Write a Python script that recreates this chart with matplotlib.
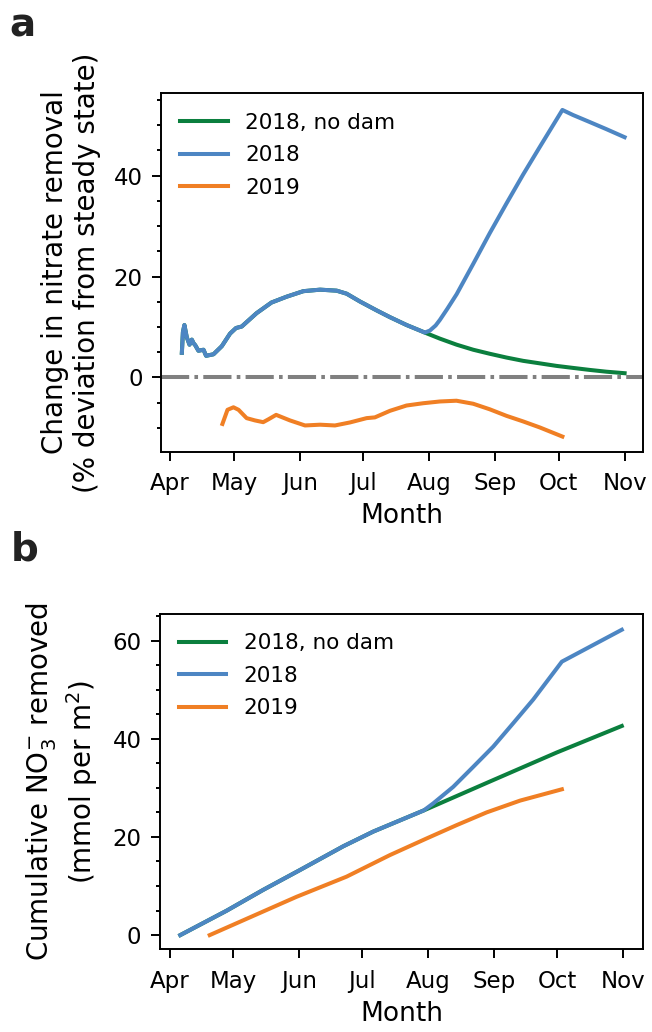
import numpy as np
import matplotlib
matplotlib.use('Agg')
import matplotlib.pyplot as plt
import matplotlib.dates as mdates
from matplotlib.ticker import MultipleLocator
import datetime as dt

# x values are days after 1 April (2019 drawn on the same month axis)
# panel a: change in nitrate removal (%)
a_early_days = [5.5, 6.0, 6.7, 7.8, 9.1, 10.2, 11.0, 11.8, 13.3, 15.7, 16.9, 20.4,
                24.3, 28.2, 31.0, 33.7, 40.7, 47.7, 54.8, 62.7, 70.6, 78.4, 83.1,
                89.4, 97.2, 103.5, 111.3, 118.8, 119.9]
a_early_vals = [4.9, 9.0, 10.4, 8.0, 6.5, 7.5, 6.8, 6.4, 5.3, 5.5, 4.3, 4.6,
                6.2, 8.7, 9.8, 10.1, 12.75, 14.85, 16.0, 17.1, 17.4, 17.2, 16.6,
                15.05, 13.3, 11.95, 10.4, 9.1, 8.9]
a_nodam_days = [127.0, 134.9, 142.7, 150.5, 158.4, 166.2, 174.1, 181.9, 189.7, 197.6, 205.4, 214.0]
a_nodam_vals = [7.7, 6.5, 5.5, 4.7, 3.95, 3.3, 2.8, 2.3, 1.9, 1.5, 1.15, 0.85]
a_dam_days = [122.3, 125.0, 127.0, 130.5, 134.9, 142.7, 150.5, 158.4, 166.2, 174.1, 184.7, 189.7, 197.6, 205.4, 214.0]
a_dam_vals = [9.3, 10.3, 11.4, 13.6, 16.5, 22.5, 28.6, 34.5, 40.2, 45.7, 53.0, 52.0, 50.6, 49.2, 47.6]
a_2019_days = [24.6, 27.0, 29.8, 32.2, 36.0, 39.9, 43.8, 46.2, 49.9, 56.4, 63.5, 70.6,
               77.6, 84.7, 92.5, 96.4, 103.5, 111.3, 119.1, 127.0, 134.8, 142.7,
               150.5, 158.4, 166.2, 174.1, 184.7]
a_2019_vals = [-9.2, -6.4, -5.9, -6.4, -8.05, -8.5, -8.85, -8.3, -7.4, -8.5, -9.5, -9.35,
               -9.5, -8.9, -8.05, -7.9, -6.6, -5.55, -5.1, -4.75, -4.6, -5.2,
               -6.3, -7.6, -8.7, -9.9, -11.7]

# panel b: cumulative NO3- removed (mmol per m2)
b_early_days = [5.0, 26.8, 44.1, 61.5, 82.0, 96.2, 120.0]
b_early_vals = [0.0, 4.95, 9.2, 13.25, 18.1, 21.1, 25.4]
b_nodam_days = [151.3, 182.8, 213.5]
b_nodam_vals = [31.3, 37.2, 42.6]
b_dam_days = [124.5, 133.9, 143.4, 152.8, 162.3, 171.7, 185.2, 213.5]
b_dam_vals = [26.85, 30.2, 34.3, 38.4, 43.2, 48.0, 55.7, 62.2]
b_2019_days = [18.9, 37.8, 59.9, 83.5, 104.0, 121.4, 135.5, 149.7, 165.5, 185.2]
b_2019_vals = [0.0, 3.6, 7.8, 11.9, 16.3, 19.7, 22.4, 25.0, 27.4, 29.7]

labels = ['2018, no dam', '2018', '2019']
colors = ['#0b7f3e', '#4d86c3', '#f07f24']

base = mdates.date2num(dt.datetime(2018, 4, 1))


def todate(d):
    return base + np.asarray(d, dtype=float)


plt.rcParams['font.family'] = 'DejaVu Sans'
plt.rcParams['axes.linewidth'] = 1.4

fig = plt.figure(figsize=(6.52, 10.32), dpi=100)
ax1 = fig.add_axes([0.247, 0.5623, 0.739, 0.3473])
ax2 = fig.add_axes([0.245, 0.0801, 0.7418, 0.3249])

lw = 2.9
# panel a
ax1.plot(todate(a_early_days + a_nodam_days), a_early_vals + a_nodam_vals, color=colors[0], lw=lw, label=labels[0])
ax1.plot(todate(a_early_days + a_dam_days), a_early_vals + a_dam_vals, color=colors[1], lw=lw, label=labels[1])
ax1.plot(todate(a_2019_days), a_2019_vals, color=colors[2], lw=lw, label=labels[2])
ax1.axhline(0, color='#808080', lw=lw, linestyle=(0, (7, 1.3, 0.9, 1.3)))
ax1.set_ylim(-14.7, 56.3)
ax1.set_xlim(todate(-4.3), todate(222.6))
ax1.set_ylabel('Change in nitrate removal\n(% deviation from steady state)', fontsize=20, labelpad=9)

# panel b
ax2.plot(todate(b_early_days + b_nodam_days), b_early_vals + b_nodam_vals, color=colors[0], lw=lw, label=labels[0])
ax2.plot(todate(b_early_days + b_dam_days), b_early_vals + b_dam_vals, color=colors[1], lw=lw, label=labels[1])
ax2.plot(todate(b_2019_days), b_2019_vals, color=colors[2], lw=lw, label=labels[2])
ax2.set_ylim(-2.9, 65.4)
ax2.set_xlim(todate(-4.7), todate(223.7))
ax2.set_ylabel('Cumulative NO$_3^{-}$ removed\n(mmol per m$^2$)', fontsize=20, labelpad=9)

for ax in (ax1, ax2):
    ax.xaxis.set_major_locator(mdates.MonthLocator())
    ax.xaxis.set_major_formatter(mdates.DateFormatter('%b'))
    ax.yaxis.set_major_locator(MultipleLocator(20))
    ax.yaxis.set_minor_locator(MultipleLocator(5))
    ax.tick_params(which='major', length=6.7, width=1.4, labelsize=16.5)
    ax.tick_params(axis='y', which='major', pad=6.5)
    ax.tick_params(axis='x', which='major', pad=8)
    ax.tick_params(which='minor', length=3.2, width=1.4)
    ax.set_xlabel('Month', fontsize=19, labelpad=6)
    ax.legend(loc='upper left', frameon=False, fontsize=15.5, labelspacing=0.58, handlelength=2.2)

fig.text(0.015, 0.965, 'a', fontsize=28, fontweight='bold', va='baseline', color='#222222')
fig.text(0.017, 0.4567, 'b', fontsize=28, fontweight='bold', va='baseline', color='#222222')

fig.savefig('out.png', dpi=100)
